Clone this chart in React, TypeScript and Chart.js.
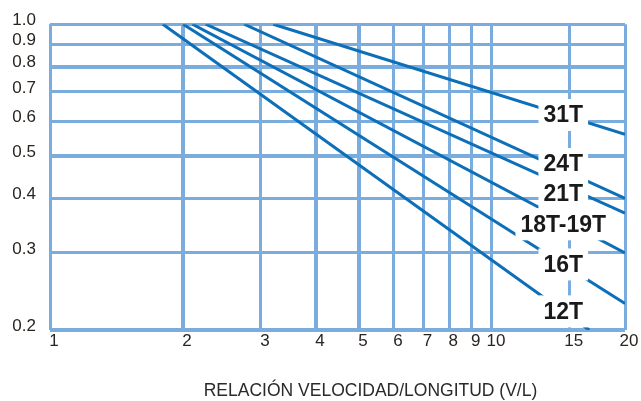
import React, { useEffect, useRef } from 'react';
import { Chart, registerables } from 'chart.js';

Chart.register(...registerables);

// Series (curves): each is a straight line on log-log axes
const seriesLabels = ['31T', '24T', '21T', '18T-19T', '16T', '12T'];
const startRatio = [3.2, 2.75, 2.25, 2.1, 2.0, 1.8];
const startFactor = [1.0, 1.0, 1.0, 1.0, 1.0, 1.0];
const endRatio = [20, 20, 20, 20, 20, 16.6];
const endFactor = [0.56, 0.4, 0.37, 0.3, 0.23, 0.2];

// Axis ticks
const xTickValues = [1, 2, 3, 4, 5, 6, 7, 8, 9, 10, 15, 20];
const yTickValues = [0.2, 0.3, 0.4, 0.5, 0.6, 0.7, 0.8, 0.9, 1.0];
const xMajor = [2, 4, 5];
const yMajor = [0.8, 0.5, 0.2];
const xAxisTitle = 'RELACIÓN VELOCIDAD/LONGITUD (V/L)';

const GRID = 'rgb(122,172,222)';
const LINE = '#0d6fb8';
const TICK_FONT = '"Liberation Sans", Arial, sans-serif';

const labelPlugin = {
  id: 'seriesLabels',
  afterDatasetsDraw(chart: any, _args: any, opts: any) {
    const { ctx, scales } = chart;
    const px = scales.x.getPixelForValue(opts.atX);
    ctx.save();
    ctx.font = 'bold 23px "Liberation Sans", Arial, sans-serif';
    ctx.textAlign = 'center';
    ctx.textBaseline = 'middle';
    chart.data.datasets.forEach((ds: any, i: number) => {
      const meta = chart.getDatasetMeta(i);
      const p0 = meta.data[0];
      const p1 = meta.data[1];
      const py = p0.y + ((p1.y - p0.y) * (px - p0.x)) / (p1.x - p0.x) + (opts.nudge[i] || 0);
      const w = ctx.measureText(ds.label).width;
      ctx.fillStyle = '#ffffff';
      ctx.fillRect(px - w / 2 - 5, py - 16, w + 10, 32);
      ctx.fillStyle = '#1a1a1a';
      ctx.fillText(ds.label, px, py + 1);
    });
    ctx.restore();
  },
};

const axisTitlePlugin = {
  id: 'axisTitle',
  afterDraw(chart: any, _args: any, opts: any) {
    const { ctx, chartArea } = chart;
    ctx.save();
    ctx.font = '17.5px "Liberation Sans", Arial, sans-serif';
    ctx.fillStyle = '#2a2a2a';
    ctx.textAlign = 'center';
    ctx.textBaseline = 'middle';
    ctx.fillText(opts.text, (chartArea.left + chartArea.right) / 2 + opts.shift, chartArea.bottom + opts.gap);
    ctx.restore();
  },
};

export default function App() {
  const canvasRef = useRef<HTMLCanvasElement | null>(null);

  useEffect(() => {
    if (!canvasRef.current) return;
    const datasets = seriesLabels.map((label, i) => ({
      label,
      data: [
        { x: startRatio[i], y: startFactor[i] },
        { x: endRatio[i], y: endFactor[i] },
      ],
      borderColor: LINE,
      backgroundColor: LINE,
      borderWidth: 3,
      pointRadius: 0,
      fill: false,
      tension: 0,
    }));

    const chart = new Chart(canvasRef.current, {
      type: 'line',
      data: { datasets },
      plugins: [labelPlugin, axisTitlePlugin],
      options: {
        animation: false,
        responsive: true,
        maintainAspectRatio: false,
        layout: { padding: { left: 0, right: 16, top: 21, bottom: 0 } },
        plugins: {
          legend: { display: false },
          tooltip: { enabled: false },
          seriesLabels: { atX: 14.5, nudge: [0, -6, 8, 4, 0, 0] },
          axisTitle: { text: xAxisTitle, shift: 33, gap: 61 },
        } as any,
        scales: {
          x: {
            type: 'logarithmic',
            min: 1,
            max: 20,
            afterBuildTicks: (scale: any) => {
              scale.ticks = xTickValues.map((v) => ({ value: v }));
            },
            afterFit: (scale: any) => {
              scale.height = 71;
            },
            border: { display: false },
            grid: {
              color: GRID,
              drawTicks: false,
              lineWidth: (c: any) => (c.tick && xMajor.includes(c.tick.value) ? 4 : 3),
            },
            ticks: {
              autoSkip: false,
              maxRotation: 0,
              padding: 1,
              labelOffset: 4,
              color: '#2a2420',
              font: { family: TICK_FONT, size: 17 },
              callback: (v: any) => String(v),
            },
          },
          y: {
            type: 'logarithmic',
            min: 0.2,
            max: 1.0,
            afterBuildTicks: (scale: any) => {
              scale.ticks = yTickValues.map((v) => ({ value: v }));
            },
            afterFit: (scale: any) => {
              scale.width = 50;
            },
            border: { display: false },
            grid: {
              color: GRID,
              drawTicks: false,
              lineWidth: (c: any) => (c.tick && yMajor.includes(c.tick.value) ? 4 : 3),
            },
            ticks: {
              autoSkip: false,
              padding: 14,
              labelOffset: -4,
              color: '#2a2420',
              font: { family: TICK_FONT, size: 17 },
              callback: (v: any) => Number(v).toFixed(1),
            },
          },
        },
      } as any,
    });
    return () => chart.destroy();
  }, []);

  return (
    <div style={{ position: 'fixed', left: 0, top: 0, width: 641, height: 401, background: '#fff' }}>
      <canvas ref={canvasRef} />
    </div>
  );
}
